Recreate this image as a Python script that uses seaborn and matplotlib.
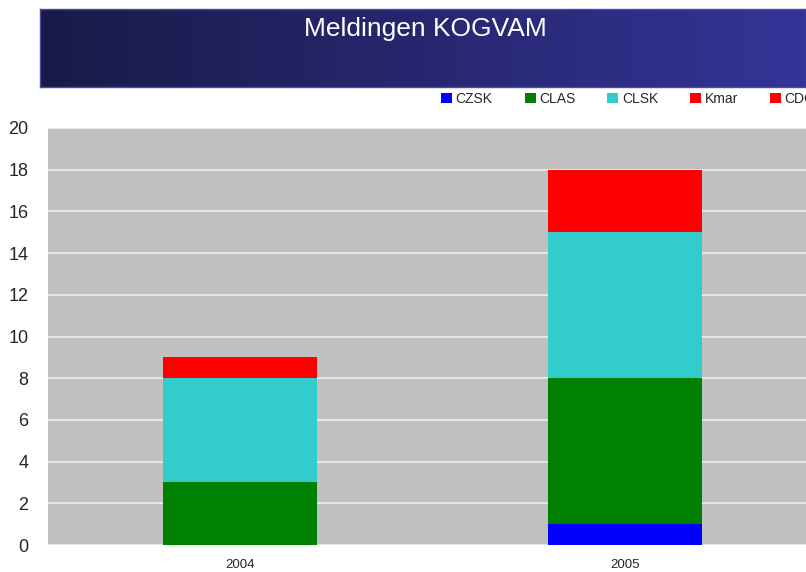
import numpy as np
import pandas as pd
import matplotlib
matplotlib.use("Agg")
import matplotlib.pyplot as plt
import seaborn as sns
from matplotlib.patches import Patch

years = ["2004", "2005"]
series = ["CZSK", "CLAS", "CLSK", "Kmar", "CDC"]
czsk = [0, 1]
clas = [3, 7]
clsk = [5, 7]
kmar = [1, 3]
cdc = [0, 0]
colors = ["#0000ff", "#008000", "#33cccc", "#ff0000", "#ff0000"]

df = pd.DataFrame({"year": years, "CZSK": czsk, "CLAS": clas,
                   "CLSK": clsk, "Kmar": kmar, "CDC": cdc})

sns.set_style("white")
plt.rcParams["font.family"] = ["Liberation Sans", "DejaVu Sans"]

fig = plt.figure(figsize=(8.06, 5.72), dpi=100)
W, H = 806, 572

# title banner with gradient
bax = fig.add_axes([40 / W, 1 - 87 / H, (W - 40) / W, 78 / H])
grad = np.linspace(0, 1, 256).reshape(1, -1)
cmap = matplotlib.colors.LinearSegmentedColormap.from_list(
    "banner", ["#1a1a48", "#343498"])
bax.imshow(grad, aspect="auto", cmap=cmap, extent=[0, 1, 0, 1])
bax.set_xticks([])
bax.set_yticks([])
for s in bax.spines.values():
    s.set_color("#4a4aa8")
    s.set_linewidth(1)
bax.text(0.503, 0.74, "Meldingen KOGVAM", color="white", fontsize=19,
         ha="center", va="center", transform=bax.transAxes)

# main plot
ax = fig.add_axes([48 / W, 27 / H, 769.5 / W, 417 / H])
ax.set_facecolor("#c0c0c0")
bottom = np.zeros(len(years))
for name, col in zip(series, colors):
    vals = df[name].values
    sns.barplot(x=df["year"], y=vals, bottom=bottom, color=col, width=0.4,
                ax=ax, zorder=3, linewidth=0, saturation=1)
    bottom = bottom + vals

ax.set_ylim(0, 20)
ax.set_xlim(-0.5, 1.5)
ax.set_yticks(range(0, 21, 2))
ax.yaxis.grid(True, color="#eeeeee", linewidth=1.2, zorder=0)
ax.set_axisbelow(True)
ax.tick_params(axis="y", labelsize=13, length=0, pad=14)
ax.tick_params(axis="x", labelsize=9.5, length=0, pad=10)
ax.set_xlabel("")
ax.set_ylabel("")
for s in ax.spines.values():
    s.set_visible(False)

handles = [Patch(facecolor=c, edgecolor="none") for c in colors]
fig.legend(handles, series, loc="center left", ncol=5,
           bbox_to_anchor=(441 / W, 1 - 99 / H), frameon=False,
           fontsize=10, handlelength=0.8, handleheight=0.8,
           handletextpad=0.25, columnspacing=2.3, borderaxespad=0,
           borderpad=0)

fig.savefig("out.png", dpi=100)
